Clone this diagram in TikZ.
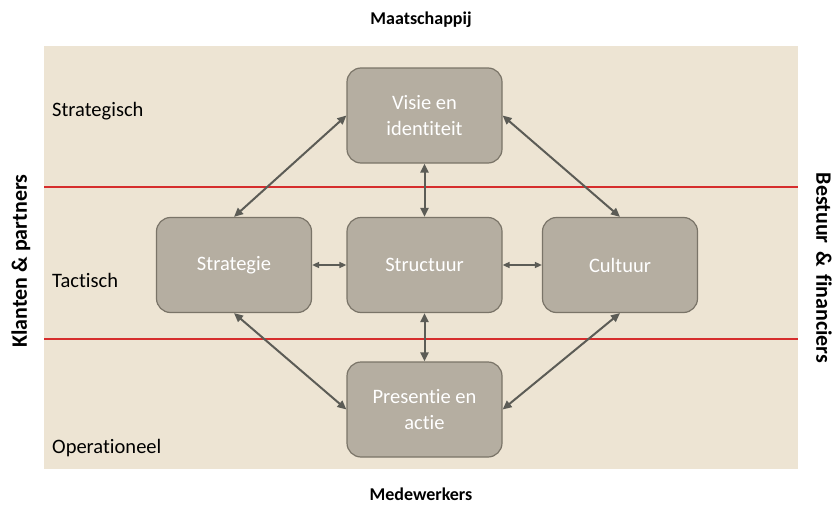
\documentclass[tikz,border=0pt]{standalone}
\usepackage{fontspec}
\setmainfont{Carlito}[Ligatures=NoCommon]
\usetikzlibrary{arrows.meta}
\definecolor{bg}{RGB}{237,228,211}
\definecolor{boxfill}{RGB}{181,174,161}
\definecolor{boxline}{RGB}{122,116,104}
\definecolor{redline}{RGB}{214,45,45}
\definecolor{arrowc}{RGB}{92,92,86}
\tikzset{
  blok/.style={draw=boxline, line width=1.2pt, fill=boxfill, rounded corners=14pt,
    minimum width=155pt, minimum height=95pt, inner sep=0pt, text=white,
    font=\fontsize{20.5}{26}\selectfont, align=center},
  pijl/.style={draw=arrowc, line width=2pt, {Triangle[length=9pt,width=8pt]}-{Triangle[length=9pt,width=8pt]}},
  kort/.style={draw=arrowc, line width=1.5pt, {Triangle[length=7pt,width=6pt]}-{Triangle[length=7pt,width=6pt]}},
  niveau/.style={anchor=west, font=\fontsize{20.5}{24}\selectfont, text=black, inner sep=0pt},
  kop/.style={font=\bfseries\fontsize{18}{21}\selectfont, inner sep=0pt},
  zijkop/.style={font=\bfseries\fontsize{22}{25}\selectfont, inner sep=0pt},
  scheiding/.style={draw=redline, line width=2pt}
}
\begin{document}
\begin{tikzpicture}[x=1pt,y=-1pt]
\useasboundingbox (0,0) rectangle (836,506);
\fill[bg] (44,46) rectangle (798,469);
\draw[scheiding] (44,187) -- (798,187);
\draw[scheiding] (44,339) -- (798,339);

\node[niveau] (lstrat) at (52,111) {Strategisch};
\node[niveau] (ltact) at (52,280) {Tactisch};
\node[niveau] (loper) at (52,448) {Operationeel};

\node[kop] (top) at (421,20) {Maatschappij};
\node[kop] (bot) at (421,494) {Medewerkers};
\node[zijkop, rotate=90] (links) at (21,261) {Klanten \& partners};
\node[zijkop, rotate=-90] (rechts) at (824,268) {Bestuur\hspace{0.12em} \&\hspace{0.12em} financiers};

\node[blok] (visie) at (424.5,115.5) {Visie en\\identiteit};
\node[blok] (strategie) at (234,265) {Strategie};
\node[blok] (structuur) at (424.5,265) {Structuur};
\node[blok] (cultuur) at (620,265) {Cultuur};
\node[blok] (presentie) at (424.5,409.5) {Presentie en\\actie};

\draw[pijl] (visie.west) -- (strategie.north);
\draw[pijl] (visie.east) -- (cultuur.north);
\draw[pijl] (visie.south) -- (structuur.north);
\draw[pijl] (structuur.south) -- (presentie.north);
\draw[pijl] (strategie.south) -- (presentie.west);
\draw[pijl] (cultuur.south) -- (presentie.east);
\draw[kort] (strategie.east) -- (structuur.west);
\draw[kort] (structuur.east) -- (cultuur.west);
\end{tikzpicture}
\end{document}
